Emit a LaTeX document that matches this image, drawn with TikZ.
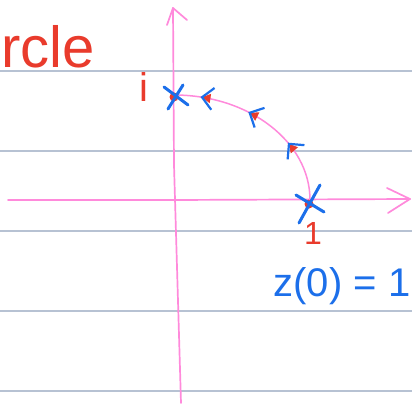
\documentclass[tikz,border=0pt]{standalone}
\usepackage{fontspec}
\setmainfont{Liberation Sans}
\usetikzlibrary{arrows.meta,decorations.markings,positioning}
\definecolor{pen}{HTML}{FF8ADB}
\definecolor{redink}{HTML}{E93B2C}
\definecolor{blueink}{HTML}{1C6FEA}
\definecolor{ruleln}{HTML}{B7C2D3}
\tikzset{
  ruled/.style={draw=ruleln,line width=1.3pt},
  axis/.style={draw=pen,line width=1.7pt,line cap=round,line join=round},
  orbit/.style={draw=pen,line width=1.5pt,postaction={decorate},
    decoration={markings,mark=between positions 0.33 and 0.9 step 0.265 with {
      \arrow[redink]{Latex[length=10pt,width=10pt]}
      \arrow[blueink,line width=2.2pt]{Straight Barb[length=11pt,width=22pt]}}}},
  cross/.style={draw=blueink,line width=3pt,line cap=round},
  blob/.style={circle,fill=redink,inner sep=0pt,minimum size=9pt},
  redtxt/.style={text=redink,inner sep=0pt},
  bluetxt/.style={text=blueink,inner sep=0pt},
}
\begin{document}
\begin{tikzpicture}[x=1pt,y=1pt]
\useasboundingbox (0,0) rectangle (412,405);
% ruled paper
\foreach \yy in {14,94,174,254,334}
  \draw[ruled] (0,\yy) -- (412,\yy);
% axes
\coordinate (O) at (174,205);
\coordinate (xleft) at (8,205);
\coordinate (xright) at (410,206);
\coordinate (ybot) at (181,2);
\coordinate (ytop) at (173,397);
\draw[axis] (xleft) -- (O) -- (xright);
\draw[axis] (xright) ++(-23,11) -- (xright) -- ++(-22,-14);
\draw[axis] (ybot) -- (174,240) -- (ytop);
\draw[axis] (ytop) ++(-6,-17) -- (ytop) -- ++(14,-12);
% points on the circle
\node[blob] (P1) at (309,201) {};
\node[blob] (Pi) at (174,308) {};
\draw[orbit] (310,205) arc[start angle=0,end angle=90,x radius=136,y radius=105];
\draw[cross] (P1) ++(-10,-19) -- ++(21,38);
\draw[cross] (P1) ++(-13,9) -- ++(28,-17);
\draw[cross] (Pi) ++(-6,-12) -- ++(15,24);
\draw[cross] (Pi) ++(-10,10) -- ++(24,-18);
% labels
\node[redtxt,anchor=base west,font=\fontsize{58}{58}\selectfont] (title) at (1,337) {rcle};
\node[redtxt,font=\fontsize{40}{40}\selectfont] (ilbl) at (144,318) {i};
\node[redtxt,font=\fontsize{32}{32}\selectfont] (onelbl) at (313,172) {1};
\node[bluetxt,font=\fontsize{40}{40}\selectfont] (zlbl) at (342,119) {z(0) = 1};
\end{tikzpicture}
\end{document}
